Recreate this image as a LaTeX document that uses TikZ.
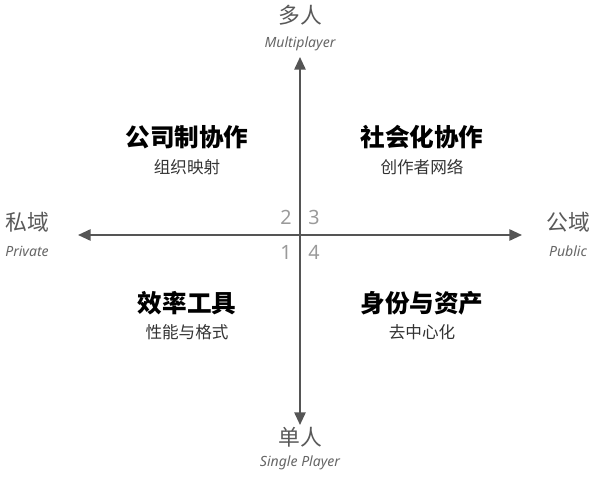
\documentclass[tikz,border=0pt]{standalone}
\usepackage{fontspec}
\setmainfont{Noto Sans}
\newfontfamily\cjk{Noto Sans CJK SC}
\usetikzlibrary{arrows.meta}
\definecolor{axisgray}{HTML}{555555}
\definecolor{numgray}{HTML}{9A9A9A}
\tikzset{
  quadtitle/.style={font=\cjk\bfseries\fontsize{17.5}{20}\selectfont, text=black},
  quadsub/.style={font=\cjk\fontsize{11.8}{14}\selectfont, text=black!80},
  axislabel/.style={font=\cjk\fontsize{15.5}{18}\selectfont, text=black!65},
  axisen/.style={font=\itshape\fontsize{10}{12}\selectfont, text=black!60},
  quadnum/.style={font=\fontsize{14}{16}\selectfont, text=numgray},
}
\begin{document}
\begin{tikzpicture}[x=0.025cm, y=-0.025cm]
    \useasboundingbox (0,0) rectangle (600,479);
    % axes
    \coordinate (top) at (300,57);
    \coordinate (bottom) at (300,425);
    \coordinate (left) at (78,235);
    \coordinate (right) at (522,235);
    \draw [axisgray, line width=1.4pt, {Triangle[length=9pt,width=8pt]}-{Triangle[length=9pt,width=8pt]}] (bottom) -- (top);
    \draw [axisgray, line width=1.4pt, {Triangle[length=9pt,width=8pt]}-{Triangle[length=9pt,width=8pt]}] (left) -- (right);
    % axis labels
    \node[axislabel] (multi) at (300,15) {多人};
    \node[axisen] (multien) at (300,44) {Multiplayer};
    \node[axislabel] (single) at (300,437) {单人};
    \node[axisen] (singleen) at (300,463) {Single Player};
    \node[axislabel] (private) at (27,222) {私域};
    \node[axisen] (privateen) at (27,251) {Private};
    \node[axislabel] (public) at (568,222) {公域};
    \node[axisen] (publicen) at (568,251) {Public};
    % quadrant numbers
    \node[quadnum] (n2) at (286,217) {2};
    \node[quadnum] (n3) at (314,217) {3};
    \node[quadnum] (n1) at (286,252) {1};
    \node[quadnum] (n4) at (314,252) {4};
    % quadrants
    \node[quadtitle] (q2) at (187,137) {公司制协作};
    \node[quadsub] (q2s) at (187,167) {组织映射};
    \node[quadtitle] (q3) at (422,137) {社会化协作};
    \node[quadsub] (q3s) at (422,167) {创作者网络};
    \node[quadtitle] (q1) at (187,303) {效率工具};
    \node[quadsub] (q1s) at (187,332) {性能与格式};
    \node[quadtitle] (q4) at (422,303) {身份与资产};
    \node[quadsub] (q4s) at (422,332) {去中心化};
\end{tikzpicture}
\end{document}
